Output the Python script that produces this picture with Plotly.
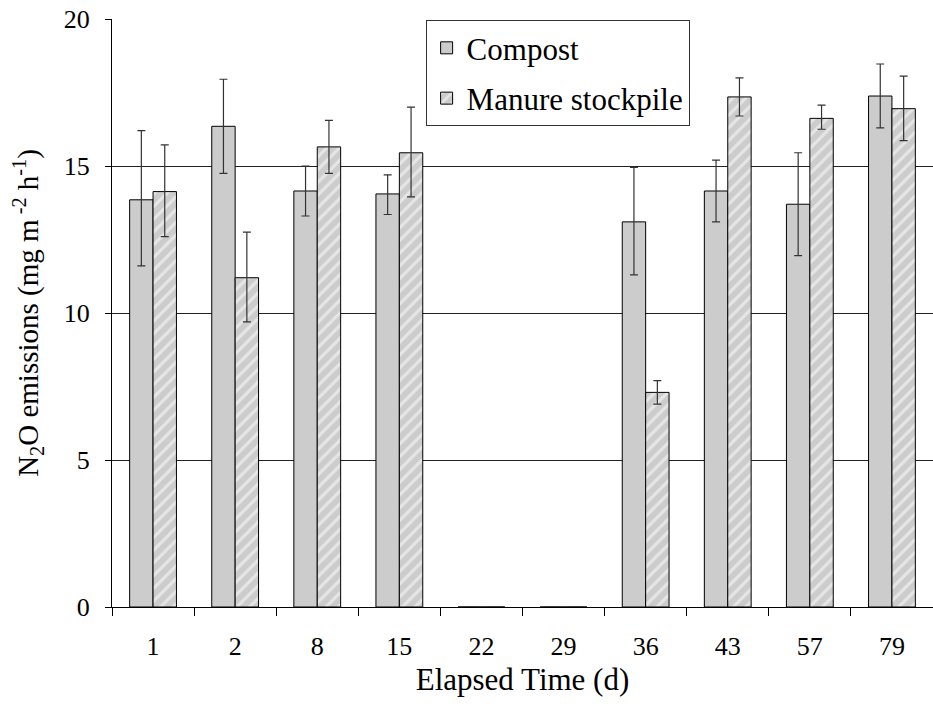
import plotly.graph_objects as go

days = ["1", "2", "8", "15", "22", "29", "36", "43", "57", "79"]
compost = [13.85, 16.35, 14.15, 14.05, 0, 0, 13.1, 14.15, 13.7, 17.38]
compost_hi = [16.2, 17.95, 15.0, 14.7, 0, 0, 14.95, 15.2, 15.45, 18.47]
compost_lo = [11.6, 14.75, 13.3, 13.35, 0, 0, 11.3, 13.1, 11.95, 16.3]
manure = [14.13, 11.2, 15.65, 15.45, 0, 0, 7.3, 17.35, 16.62, 16.95]
manure_hi = [15.72, 12.75, 16.55, 17.0, 0, 0, 7.7, 18.0, 17.07, 18.06]
manure_lo = [12.6, 9.7, 14.75, 13.95, 0, 0, 6.9, 16.7, 16.25, 15.86]

FONT = "Liberation Serif, Times New Roman, serif"

def err(v, hi, lo):
    return dict(type="data", symmetric=False,
                array=[h - x for h, x in zip(hi, v)],
                arrayminus=[x - l for x, l in zip(v, lo)],
                color="#333333", thickness=1.2, width=4)

fig = go.Figure()
fig.add_trace(go.Bar(
    x=days, y=compost, name="Compost", legendgroup="a",
    marker=dict(color="#cccccc", line=dict(color="black", width=1)),
    error_y=err(compost, compost_hi, compost_lo)))
fig.add_trace(go.Bar(
    x=days, y=manure, name="Manure stockpile", legendgroup="b",
    marker=dict(color="#d0d0d0", line=dict(color="black", width=1),
                pattern=dict(shape="/", fgcolor="white", bgcolor="#cccccc",
                             size=9, solidity=0.35)),
    error_y=err(manure, manure_hi, manure_lo)))

fig.update_layout(
    width=933, height=704,
    margin=dict(l=112, r=0, t=19, b=97),
    plot_bgcolor="white", paper_bgcolor="white",
    barmode="group", bargap=0.43, bargroupgap=0,
    font=dict(family=FONT, size=26, color="black"),
    showlegend=True,
    legend=dict(x=0.382, y=0.998, xanchor="left", yanchor="top",
                bordercolor="#333333", borderwidth=1, bgcolor="white",
                font=dict(family=FONT, size=31),
                tracegroupgap=7, traceorder="grouped",
                itemwidth=30, entrywidth=236),
    xaxis=dict(type="category", showline=True, linecolor="black", linewidth=1,
               ticks="outside", tickson="boundaries", ticklen=8, tickcolor="black",
               tickfont=dict(family=FONT, size=26), ticklabelstandoff=16,
               title=dict(text="Elapsed Time (d)", font=dict(family=FONT, size=31), standoff=8),
               showgrid=False),
    yaxis=dict(range=[0, 20], tickvals=[0, 5, 10, 15, 20], showline=True, linecolor="black",
               linewidth=1, ticks="outside", ticklen=6, tickcolor="black",
               showgrid=True, gridcolor="#222222", gridwidth=1, zeroline=False,
               tickfont=dict(family=FONT, size=26), ticklabelstandoff=10,
               title=dict(text="N<sub>2</sub>O emissions (mg m<sup> -2</sup> h<sup>-1</sup>)",
                          font=dict(family=FONT, size=29), standoff=16)),
)

fig.write_html("out.html")
